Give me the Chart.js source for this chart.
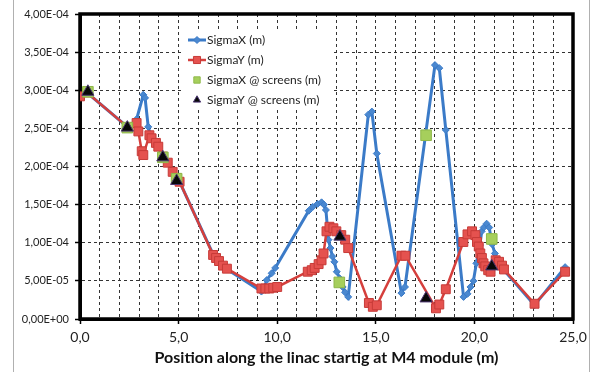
<!DOCTYPE html>
<html><head><meta charset="utf-8">
<script src="https://cdn.jsdelivr.net/npm/chart.js@4/dist/chart.umd.min.js"></script>
<style>html,body{margin:0;padding:0;background:#fff;}#wrap{position:relative;width:593px;height:372px;}</style>
</head><body><div id="wrap"><canvas id="c" width="593" height="372"></canvas></div>
<script>
// ---- data (values in metres) ----
const sigmaXPos = [0.0,0.35,2.45,2.87,3.21,3.3,3.46,3.63,3.85,3.97,4.2,4.45,4.7,4.9,5.05,6.8,7.0,7.2,7.4,9.2,9.35,9.47,9.72,9.9,11.6,11.8,12.05,12.25,12.37,12.47,12.6,12.7,12.8,12.9,13.02,13.18,13.32,13.44,13.6,14.62,14.8,15.05,16.3,16.48,18.0,18.22,18.55,19.45,19.65,19.8,19.95,20.1,20.28,20.37,20.47,20.62,20.75,20.9,21.04,21.3,23.05,24.6];
const sigmaXVal = [2.92e-4,2.97e-4,2.51e-4,2.62e-4,2.94e-4,2.90e-4,2.52e-4,2.37e-4,2.31e-4,2.26e-4,2.13e-4,2.05e-4,1.93e-4,1.85e-4,1.80e-4,0.82e-4,0.77e-4,0.71e-4,0.66e-4,0.36e-4,0.42e-4,0.51e-4,0.60e-4,0.67e-4,1.42e-4,1.47e-4,1.51e-4,1.53e-4,1.50e-4,1.43e-4,1.04e-4,0.93e-4,0.82e-4,0.75e-4,0.62e-4,0.53e-4,0.42e-4,0.35e-4,0.29e-4,2.68e-4,2.72e-4,2.17e-4,0.34e-4,0.42e-4,3.33e-4,3.29e-4,2.48e-4,0.29e-4,0.33e-4,0.42e-4,0.50e-4,0.73e-4,0.97e-4,1.15e-4,1.20e-4,1.25e-4,1.20e-4,0.98e-4,0.86e-4,0.70e-4,0.18e-4,0.68e-4];
const sigmaYPos = [0.0,0.35,2.45,2.87,2.96,3.13,3.21,3.52,3.63,3.85,3.97,4.2,4.45,4.7,4.9,5.05,6.75,6.9,7.05,7.25,7.45,9.2,9.4,9.6,9.8,10.0,11.55,11.75,11.9,12.1,12.25,12.35,12.5,12.65,12.85,13.0,13.25,13.45,13.6,14.65,14.85,15.05,16.3,16.5,18.05,18.22,18.55,19.44,19.65,19.88,20.05,20.13,20.22,20.3,20.38,20.46,20.55,20.7,20.82,21.08,21.25,21.4,21.5,23.05,24.6];
const sigmaYVal = [2.92e-4,2.97e-4,2.51e-4,2.57e-4,2.46e-4,2.20e-4,2.15e-4,2.41e-4,2.37e-4,2.31e-4,2.26e-4,2.13e-4,2.05e-4,1.93e-4,1.85e-4,1.80e-4,0.84e-4,0.80e-4,0.76e-4,0.70e-4,0.66e-4,0.40e-4,0.40e-4,0.40e-4,0.41e-4,0.42e-4,0.62e-4,0.64e-4,0.67e-4,0.72e-4,0.77e-4,0.86e-4,1.15e-4,1.21e-4,1.19e-4,1.15e-4,1.10e-4,1.04e-4,0.93e-4,0.21e-4,0.16e-4,0.18e-4,0.83e-4,0.83e-4,0.14e-4,0.19e-4,0.39e-4,1.01e-4,1.11e-4,1.15e-4,1.10e-4,1.01e-4,0.95e-4,0.86e-4,0.80e-4,0.73e-4,0.69e-4,0.64e-4,0.62e-4,0.77e-4,0.75e-4,0.70e-4,0.65e-4,0.20e-4,0.62e-4];
const screenXPos = [0.4,2.4,4.2,4.9,13.15,17.55,20.88];
const screenXVal = [2.98e-4,2.51e-4,2.12e-4,1.84e-4,0.48e-4,2.41e-4,1.05e-4];
const screenYPos = [0.4,2.4,4.2,4.9,13.18,17.55,20.88];
const screenYVal = [2.98e-4,2.51e-4,2.12e-4,1.81e-4,1.08e-4,0.27e-4,0.69e-4];
const seriesNames = ['SigmaX (m)','SigmaY (m)','SigmaX @ screens (m)','SigmaY @ screens (m)'];
const xTickLabels = ['0,0','5,0','10,0','15,0','20,0','25,0'];
const yTickLabels = ['0,00E+00','5,00E-05','1,00E-04','1,50E-04','2,00E-04','2,50E-04','3,00E-04','3,50E-04','4,00E-04'];
const xTitle = 'Position along the linac startig at M4 module (m)';

const pts = (xs, ys) => xs.map((x, i) => ({x: x, y: ys[i]}));
const FONT = 'Lato, "Open Sans", sans-serif';

const styles = [
  {color:'#3b7bc8', fill:'#4a88d0', pointStyle:'rectRot', radius:3.5, line:3},
  {color:'#d53f3c', fill:'#e5524f', pointStyle:'rect', radius:6.3, line:2.5, border:'#c73b38'},
  {color:'#8fb84a', fill:'#a6cf5c', pointStyle:'rect', radius:7.5, line:0},
  {color:'#4b3570', fill:'#080808', pointStyle:'triangle', radius:7, line:0}
];

const frame = {
  id:'frame',
  beforeDraw(chart){
    const c = chart.ctx; c.save();
    c.strokeStyle = '#b0b0b0'; c.lineWidth = 1;
    c.beginPath(); c.moveTo(13.5,0); c.lineTo(13.5,372); c.moveTo(589.5,0); c.lineTo(589.5,372); c.stroke();
    c.restore();
  },
  beforeDatasetsDraw(chart){
    const a = chart.chartArea, c = chart.ctx; c.save();
    c.strokeStyle = '#000'; c.lineWidth = 3.5;
    c.strokeRect(a.left, a.top, a.right - a.left, a.bottom - a.top);
    c.restore();
  },
  afterDatasetsDraw(chart){
    const c = chart.ctx; c.save();
    c.fillStyle = '#fff'; c.fillRect(184, 29, 147, 80);
    const ys = [40, 60, 80, 100];
    c.font = '12px ' + FONT; c.textBaseline = 'middle'; c.textAlign = 'left';
    seriesNames.forEach((name, i) => {
      const s = styles[i], y = ys[i];
      if (s.line) {
        c.strokeStyle = s.color; c.lineWidth = s.line;
        c.beginPath(); c.moveTo(188, y); c.lineTo(206, y); c.stroke();
      }
      c.fillStyle = s.fill; c.strokeStyle = s.border || s.color; c.lineWidth = 1;
      const r = i >= 2 ? s.radius * 0.6 : (i === 1 ? 5 : s.radius);
      Chart.helpers.drawPoint(c, {pointStyle:s.pointStyle, radius:r, rotation:0, borderWidth:1}, 197, y);
      c.fillStyle = '#222';
      c.fillText(name, 207, y + 0.5);
    });
    c.restore();
  }
};

const ds = [
  {label: seriesNames[3], data: pts(screenYPos, screenYVal), s: styles[3], showLine:false},
  {label: seriesNames[2], data: pts(screenXPos, screenXVal), s: styles[2], showLine:false},
  {label: seriesNames[1], data: pts(sigmaYPos, sigmaYVal), s: styles[1], showLine:true},
  {label: seriesNames[0], data: pts(sigmaXPos, sigmaXVal), s: styles[0], showLine:true}
].map(d => ({
  label: d.label, data: d.data, showLine: d.showLine,
  borderColor: d.s.color, borderWidth: d.s.line || 0,
  pointStyle: d.s.pointStyle, pointRadius: d.s.radius,
  pointBackgroundColor: d.s.fill, pointBorderColor: d.s.border || d.s.color, pointBorderWidth: 1,
  tension: 0
}));

new Chart(document.getElementById('c'), {
  type: 'scatter',
  data: {datasets: ds},
  plugins: [frame],
  options: {
    responsive: false, animation: false, devicePixelRatio: 1,
    layout: {padding: {left: 0, right: 20, top: 14, bottom: 0}},
    plugins: {legend: {display: false}, tooltip: {enabled: false}},
    scales: {
      x: {
        type: 'linear', min: 0, max: 25,
        afterFit(s){ s.height = 53; },
        ticks: {stepSize: 1, autoSkip: false, maxRotation: 0, padding: 5, color: '#222', font: {family: FONT, size: 14},
          callback: v => (v % 5 === 0 ? xTickLabels[v / 5] : '')},
        grid: {color: '#333', lineWidth: 1, tickLength: 5,
          tickColor: ctx => (ctx.tick && ctx.tick.value % 5 === 0) ? '#000' : 'rgba(0,0,0,0)', tickWidth: 1.5},
        border: {display: true, color: '#000', width: 3, dash: [3, 3]},
        title: {display: true, text: xTitle, color: '#111', font: {family: FONT, size: 16, weight: 'bold'}, padding: {top: 0, bottom: 5}}
      },
      y: {
        type: 'linear', min: 0, max: 4e-4,
        afterFit(s){ s.width = 80; },
        ticks: {stepSize: 5e-5, padding: 6, color: '#222', font: {family: FONT, size: 11},
          callback: v => yTickLabels[Math.round(v / 5e-5)]},
        grid: {color: '#333', lineWidth: 1, tickLength: 5, tickColor: '#000', tickWidth: 1.5},
        border: {display: true, color: '#000', width: 3, dash: [3, 3]}
      }
    }
  }
});
</script></body></html>
